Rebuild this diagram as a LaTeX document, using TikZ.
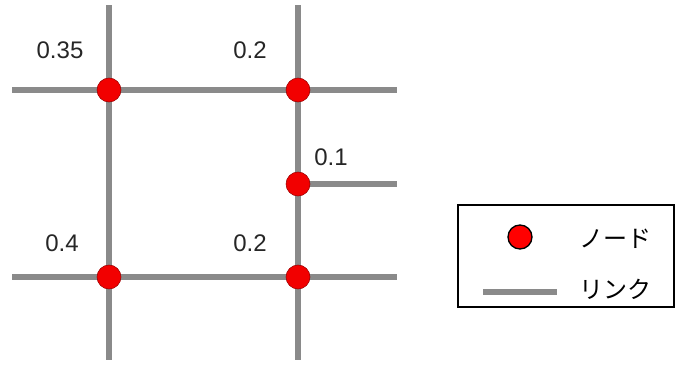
\documentclass[tikz,border=0pt]{standalone}
\usepackage{fontspec}
\setmainfont{Liberation Sans}
\newfontfamily\jpfont{Noto Sans CJK JP}
\definecolor{linkgray}{RGB}{138,138,138}
\begin{document}
\begin{tikzpicture}[x=0.75pt,y=-0.75pt,
  link/.style={draw=linkgray, line width=3.8pt},
  nd/.style={circle, fill=red!95!black, draw=red!60!black, line width=0.4pt, minimum size=18pt, inner sep=0pt},
  val/.style={font=\fontsize{18}{21}\selectfont, text=black!85},
  jp/.style={font=\jpfont\fontsize{18}{22}\selectfont, anchor=west}]
\useasboundingbox (0,0) rectangle (678,365);
% free ends
\coordinate (t1) at (109,5);
\coordinate (b1) at (109,360);
\coordinate (t2) at (298,5);
\coordinate (b2) at (298,360);
\coordinate (l1) at (12,90);
\coordinate (r1) at (397,90);
\coordinate (l2) at (12,277);
\coordinate (r2) at (397,277);
\coordinate (r3) at (397,184);
% lines
\draw[link] (t1) -- (b1);
\draw[link] (t2) -- (b2);
\draw[link] (l1) -- (r1);
\draw[link] (l2) -- (r2);
\draw[link] (298,184) -- (r3);
% nodes
\node[nd] (n1) at (109,90) {};
\node[nd] (n2) at (298,90) {};
\node[nd] (n3) at (298,184) {};
\node[nd] (n4) at (109,277) {};
\node[nd] (n5) at (298,277) {};
% labels
\node[val] (v1) at (60,50) {0.35};
\node[val] (v2) at (250,50) {0.2};
\node[val] (v3) at (331,157) {0.1};
\node[val] (v4) at (62,243) {0.4};
\node[val] (v5) at (250,243) {0.2};
% legend
\draw[black, line width=1.1pt] (458,205) rectangle (674,307);
\node[circle, fill=red, draw=black, line width=1pt, minimum size=18pt, inner sep=0pt] (ln) at (520,237) {};
\coordinate (la) at (483,292);
\coordinate (lb) at (557,292);
\draw[draw=linkgray, line width=4.5pt] (la) -- (lb);
\node[jp] (tn) at (575,239) {ノード};
\node[jp] (tl) at (575,289) {リンク};
\end{tikzpicture}
\end{document}
